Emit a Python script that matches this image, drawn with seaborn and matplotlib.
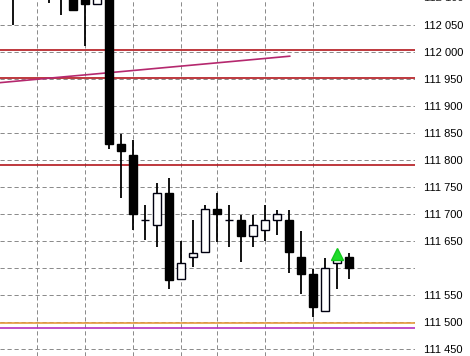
import numpy as np
import pandas as pd
import matplotlib
matplotlib.use("Agg")
import matplotlib.pyplot as plt
import seaborn as sns

# ---- data (price in points) ----
idx = list(range(29))
opens = [112120, 112115, 112125, 112110, 112120, 112108, 112112, 112088, 112110,
         111830, 111810, 111689, 111679, 111739, 111579, 111620, 111629, 111709,
         111688, 111688, 111659, 111670, 111688, 111688, 111620, 111588, 111520,
         111609, 111620]
closes = [112105, 112125, 112120, 112120, 112105, 112078, 112088, 112110, 111829,
          111817, 111699, 111689, 111738, 111578, 111609, 111628, 111709, 111699,
          111688, 111659, 111679, 111688, 111699, 111629, 111588, 111528, 111599,
          111618, 111599]
highs = [112140, 112140, 112145, 112135, 112130, 112115, 112120, 112120, 112115,
         111848, 111837, 111717, 111758, 111767, 111649, 111688, 111717, 111738,
         111717, 111698, 111698, 111717, 111707, 111707, 111668, 111598, 111618,
         111620, 111627]
lows = [112050, 112105, 112108, 112090, 112069, 112078, 112010, 112088, 111820,
        111730, 111670, 111651, 111639, 111561, 111579, 111601, 111629, 111648,
        111639, 111611, 111639, 111649, 111661, 111590, 111551, 111510, 111520,
        111561, 111580]

red_levels = [112004, 111952, 111790]
orange_level = 111499
magenta_level = 111488
trend_x = [-1.083, 23.08]
trend_y = [111943, 111992]
arrow_x = 27
arrow_y = 111625
vgrid_idx = [2, 6, 10, 14, 17, 21, 25]
ytick_vals = list(range(111450, 112101, 50))
hidden_label = 111600

df = pd.DataFrame({"i": idx, "open": opens, "close": closes, "high": highs, "low": lows})

sns.set_style("white")
plt.rcParams["font.family"] = ["Liberation Sans", "DejaVu Sans"]

fig = plt.figure(figsize=(4.7, 3.56), dpi=100)
ax = fig.add_axes([0, 0, 415 / 470, 1])

ylo, yhi = 111437, 112096
ax.set_ylim(ylo, yhi)
ax.set_xlim(-1.083, 33.5)

# grid
dash = (0, (4.2, 2.8))
for v in ytick_vals:
    ax.axhline(v, color="#8c8c8c", lw=0.72, linestyle=dash, zorder=1)
for g in vgrid_idx:
    ax.axvline(g, color="#8c8c8c", lw=0.72, linestyle=dash, zorder=1)

# level lines
for lv in red_levels:
    ax.axhline(lv, color="#b3161c", lw=1.2, zorder=2)
ax.axhline(orange_level, color="#e59a3c", lw=1.2, zorder=2)
ax.axhline(magenta_level, color="#b62fbf", lw=1.2, zorder=2)
sns.lineplot(x=trend_x, y=trend_y, ax=ax, color="#b5286e", lw=1.2, zorder=2)

# candles
ax.vlines(df["i"], df["low"], df["high"], color="black", lw=1.3, zorder=3)
up = df[df["close"] >= df["open"]]
dn = df[df["close"] < df["open"]]
ax.bar(up["i"], (up["close"] - up["open"]).clip(lower=0.01), bottom=up["open"], width=0.62,
       color="white", edgecolor="#000010", linewidth=1.0, zorder=4)
ax.bar(dn["i"], dn["close"] - dn["open"], bottom=dn["open"], width=0.62,
       color="black", edgecolor="black", linewidth=1.0, zorder=4)

# signal arrow
ax.plot([arrow_x], [arrow_y], marker="^", markersize=9, color="#1fdc2a",
        markeredgecolor="#14c81e", zorder=5)

# axis styling
for s in ax.spines.values():
    s.set_visible(False)
ax.set_xticks([])
ax.yaxis.tick_right()
ax.set_yticks(ytick_vals[:-1])
ax.set_yticklabels(["" if v == hidden_label else f"{v // 1000} {v % 1000:03d}" for v in ytick_vals[:-1]],
                   fontsize=8)
ax.tick_params(axis="y", length=0, pad=6.5, colors="black")
top = ytick_vals[-1]
ax.text(1.0 + 6.5 / 72 * 100 / 415, top, f"{top // 1000} {top % 1000:03d}",
        transform=ax.get_yaxis_transform(), fontsize=8, va="center", ha="left", clip_on=False)
ax.set_xlabel("")
ax.set_ylabel("")

fig.savefig("out.png", dpi=100)
